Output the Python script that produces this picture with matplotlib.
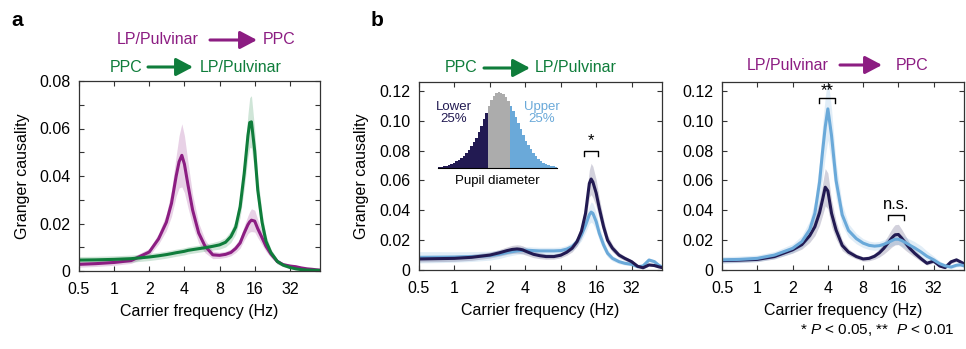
import matplotlib
matplotlib.use("Agg")
import matplotlib.pyplot as plt
from matplotlib.patches import FancyArrowPatch
from matplotlib.ticker import FixedLocator, FuncFormatter, NullLocator
import numpy as np

plt.rcParams['font.family'] = ['Liberation Sans', 'DejaVu Sans']
plt.rcParams['mathtext.fontset'] = 'custom'
plt.rcParams['mathtext.rm'] = 'Liberation Sans'
plt.rcParams['mathtext.it'] = 'Liberation Sans:italic'

# carrier frequencies (Hz) shared by all spectra
freq = [0.5, 0.7, 1.0, 1.4, 2.0, 2.4, 2.8, 3.1, 3.4, 3.6, 3.8, 4.0, 4.3, 4.7,
        5.3, 6.0, 7.0, 8.0, 9.0, 10.0, 11.0, 12.0, 13.0, 14.0, 14.5, 15.0,
        16.0, 17.0, 18.5, 20.0, 22.0, 25.0, 28.0, 32.0, 36.0, 40.0, 45.0,
        50.0, 54.0, 58.0]

# panel a: all trials
lp_to_ppc = [0.0028, 0.0031, 0.0036, 0.0044, 0.0080, 0.0135, 0.0205, 0.0285,
             0.0400, 0.0460, 0.0487, 0.0450, 0.0360, 0.0257, 0.0160, 0.0105,
             0.0068, 0.0066, 0.0070, 0.0078, 0.0095, 0.0118, 0.0160, 0.0195,
             0.0207, 0.0214, 0.0210, 0.0178, 0.0140, 0.0104, 0.0072, 0.0040,
             0.0027, 0.0021, 0.0018, 0.0013, 0.0009, 0.0007, 0.0005, 0.0004]
lp_to_ppc_sem = [0.0012, 0.0012, 0.0012, 0.0012, 0.0015, 0.0022, 0.0035, 0.0055,
                 0.0085, 0.0110, 0.0133, 0.0120, 0.0095, 0.0065, 0.0042, 0.0028,
                 0.0016, 0.0013, 0.0013, 0.0014, 0.0017, 0.0022, 0.0030, 0.0038,
                 0.0043, 0.0048, 0.0046, 0.0038, 0.0030, 0.0022, 0.0015, 0.0010,
                 0.0008, 0.0007, 0.0006, 0.0005, 0.0004, 0.0003, 0.0003, 0.0003]
ppc_to_lp = [0.0046, 0.0047, 0.0049, 0.0052, 0.0059, 0.0064, 0.0069, 0.0073,
             0.0077, 0.0079, 0.0081, 0.0083, 0.0087, 0.0090, 0.0094, 0.0098,
             0.0104, 0.0110, 0.0121, 0.0145, 0.0185, 0.0270, 0.0410, 0.0570,
             0.0625, 0.0628, 0.0505, 0.0340, 0.0205, 0.0125, 0.0078, 0.0040,
             0.0025, 0.0015, 0.0009, 0.0006, 0.0004, 0.0003, 0.0003, 0.0002]
ppc_to_lp_sem = [0.0015, 0.0015, 0.0015, 0.0015, 0.0015, 0.0015, 0.0015, 0.0015,
                 0.0015, 0.0015, 0.0015, 0.0015, 0.0015, 0.0015, 0.0015, 0.0015,
                 0.0016, 0.0018, 0.0020, 0.0025, 0.0030, 0.0045, 0.0065, 0.0090,
                 0.0105, 0.0110, 0.0090, 0.0060, 0.0040, 0.0025, 0.0015, 0.0010,
                 0.0007, 0.0005, 0.0004, 0.0003, 0.0003, 0.0002, 0.0002, 0.0002]

# panel b left: PPC -> LP/Pulvinar split by pupil size
ppc_lp_lower = [0.0074, 0.0076, 0.0078, 0.0085, 0.0100, 0.0115, 0.0130, 0.0138,
                0.0141, 0.0139, 0.0135, 0.0127, 0.0117, 0.0105, 0.0096, 0.0090,
                0.0090, 0.0099, 0.0119, 0.0146, 0.0190, 0.0260, 0.0380, 0.0580,
                0.0610, 0.0590, 0.0516, 0.0415, 0.0290, 0.0200, 0.0146, 0.0100,
                0.0078, 0.0056, 0.0025, 0.0015, 0.0034, 0.0030, 0.0022, 0.0016]
ppc_lp_lower_sem = [0.0020, 0.0020, 0.0020, 0.0020, 0.0020, 0.0022, 0.0025, 0.0027,
                    0.0028, 0.0028, 0.0027, 0.0026, 0.0024, 0.0022, 0.0020, 0.0018,
                    0.0017, 0.0018, 0.0020, 0.0025, 0.0030, 0.0045, 0.0065, 0.0090,
                    0.0105, 0.0105, 0.0090, 0.0070, 0.0050, 0.0035, 0.0025, 0.0018,
                    0.0015, 0.0012, 0.0010, 0.0008, 0.0008, 0.0008, 0.0007, 0.0007]
ppc_lp_upper = [0.0085, 0.0086, 0.0087, 0.0090, 0.0096, 0.0105, 0.0117, 0.0123,
                0.0128, 0.0130, 0.0131, 0.0132, 0.0132, 0.0130, 0.0128, 0.0128,
                0.0128, 0.0130, 0.0140, 0.0157, 0.0190, 0.0235, 0.0300, 0.0370,
                0.0388, 0.0380, 0.0325, 0.0247, 0.0168, 0.0112, 0.0078, 0.0056,
                0.0045, 0.0038, 0.0022, 0.0027, 0.0067, 0.0056, 0.0034, 0.0020]
ppc_lp_upper_sem = [0.0038, 0.0037, 0.0035, 0.0033, 0.0030, 0.0028, 0.0026, 0.0025,
                    0.0024, 0.0024, 0.0024, 0.0024, 0.0024, 0.0024, 0.0024, 0.0024,
                    0.0024, 0.0024, 0.0025, 0.0027, 0.0030, 0.0038, 0.0048, 0.0060,
                    0.0068, 0.0068, 0.0060, 0.0048, 0.0035, 0.0025, 0.0018, 0.0014,
                    0.0012, 0.0010, 0.0009, 0.0009, 0.0012, 0.0012, 0.0010, 0.0008]

# panel b right: LP/Pulvinar -> PPC split by pupil size
lp_ppc_lower = [0.0063, 0.0066, 0.0071, 0.0090, 0.0135, 0.0170, 0.0230, 0.0290,
                0.0385, 0.0470, 0.0555, 0.0530, 0.0380, 0.0268, 0.0165, 0.0120,
                0.0090, 0.0074, 0.0078, 0.0092, 0.0115, 0.0145, 0.0180, 0.0213,
                0.0226, 0.0236, 0.0238, 0.0215, 0.0178, 0.0145, 0.0112, 0.0075,
                0.0045, 0.0060, 0.0027, 0.0016, 0.0055, 0.0068, 0.0055, 0.0042]
lp_ppc_lower_sem = [0.0015, 0.0015, 0.0015, 0.0016, 0.0022, 0.0030, 0.0045, 0.0060,
                    0.0085, 0.0105, 0.0125, 0.0120, 0.0090, 0.0060, 0.0035, 0.0022,
                    0.0016, 0.0015, 0.0016, 0.0020, 0.0028, 0.0038, 0.0050, 0.0060,
                    0.0065, 0.0068, 0.0068, 0.0060, 0.0048, 0.0035, 0.0025, 0.0018,
                    0.0012, 0.0012, 0.0008, 0.0006, 0.0012, 0.0012, 0.0010, 0.0008]
lp_ppc_upper = [0.0068, 0.0071, 0.0078, 0.0100, 0.0145, 0.0190, 0.0270, 0.0380,
                0.0590, 0.0790, 0.0960, 0.1080, 0.0900, 0.0600, 0.0370, 0.0265,
                0.0210, 0.0180, 0.0165, 0.0160, 0.0163, 0.0172, 0.0184, 0.0196,
                0.0202, 0.0206, 0.0206, 0.0198, 0.0182, 0.0166, 0.0148, 0.0120,
                0.0092, 0.0068, 0.0042, 0.0028, 0.0020, 0.0032, 0.0035, 0.0028]
lp_ppc_upper_sem = [0.0022, 0.0022, 0.0022, 0.0024, 0.0030, 0.0040, 0.0060, 0.0090,
                    0.0140, 0.0180, 0.0200, 0.0210, 0.0180, 0.0120, 0.0070, 0.0045,
                    0.0035, 0.0030, 0.0028, 0.0028, 0.0028, 0.0030, 0.0032, 0.0034,
                    0.0035, 0.0035, 0.0035, 0.0036, 0.0038, 0.0040, 0.0042, 0.0042,
                    0.0035, 0.0025, 0.0018, 0.0014, 0.0012, 0.0012, 0.0012, 0.0010]

# pupil diameter histogram (relative counts) and quartile split
pupil_counts = [1, 1.5, 2, 3, 4, 5, 7, 9, 11, 13, 16, 20, 24, 29, 34, 40, 47,
                55, 64, 73, 82, 90, 95, 99, 100, 99, 97, 93, 88, 82, 75, 67,
                59, 51, 43, 36, 30, 25, 20, 16, 12, 9, 7, 5, 4, 3, 2, 1]
n_lower_bins = 20
n_upper_bins = 19

xticks = [0.5, 1, 2, 4, 8, 16, 32]
xticklabels = ['0.5', '1', '2', '4', '8', '16', '32']

PURPLE = '#8c1d82'
GREEN = '#0f7d3b'
NAVY = '#221a52'
LBLUE = '#6aa9d9'
GRAY = '#acacac'
SPINE = '#333333'

W, H = 966, 349
fig = plt.figure(figsize=(W / 100, H / 100), dpi=100)


def fx(x):
    return x / W


def fy(y):
    return 1 - y / H


def make_axes(left, top, right, bottom):
    return fig.add_axes([fx(left), fy(bottom), fx(right - left), (bottom - top) / H])


def ylab_fmt(v, pos):
    if abs(v) < 1e-9:
        return '0'
    if round(v * 100) % 2 == 0:
        return '%.2f' % v
    return ''


def style(ax, ymax, ystep):
    ax.set_xscale('log', base=2)
    ax.set_xlim(0.5, 58)
    ax.set_ylim(0, ymax)
    ax.xaxis.set_major_locator(FixedLocator(xticks))
    ax.set_xticklabels(xticklabels)
    ax.xaxis.set_minor_locator(NullLocator())
    ax.yaxis.set_major_locator(FixedLocator(np.arange(0, ymax + 1e-9, ystep)))
    ax.yaxis.set_major_formatter(FuncFormatter(ylab_fmt))
    ax.tick_params(direction='in', length=3.5, width=0.8, color=SPINE,
                   top=True, right=True, labelsize=11.5)
    ax.tick_params(axis='x', pad=8)
    ax.tick_params(axis='y', pad=6)
    for s in ax.spines.values():
        s.set_color(SPINE)
        s.set_linewidth(0.9)
    ax.set_xlabel('Carrier frequency (Hz)', fontsize=11.5, labelpad=5)


def spectrum(ax, mean, sem, color):
    m = np.array(mean)
    e = np.array(sem)
    ax.fill_between(freq, m - e, m + e, color=color, alpha=0.2, lw=0)
    ax.plot(freq, m, color=color, lw=2.2, solid_capstyle='round')


def bracket(ax, x0, x1, ytop, yleg, label, ylab):
    ax.plot([x0, x0, x1, x1], [yleg, ytop, ytop, yleg], color='black', lw=1)
    ax.text(np.sqrt(x0 * x1), ylab, label, ha='center', va='center', fontsize=12)


def direction(x_src, x_arrow0, x_arrow1, x_dst, y, src, dst, color):
    fig.text(fx(x_src), fy(y), src, color=color, ha='left', va='center', fontsize=11.5)
    fig.text(fx(x_dst), fy(y), dst, color=color, ha='left', va='center', fontsize=11.5)
    fig.add_artist(FancyArrowPatch(
        (fx(x_arrow0), fy(y)), (fx(x_arrow1), fy(y)), transform=fig.transFigure,
        arrowstyle='-|>,head_length=0.85,head_width=0.45', mutation_scale=12,
        color=color, lw=2.2, shrinkA=0, shrinkB=0))


# panel a
ax_a = make_axes(79, 81, 320, 271)
spectrum(ax_a, lp_to_ppc, lp_to_ppc_sem, PURPLE)
spectrum(ax_a, ppc_to_lp, ppc_to_lp_sem, GREEN)
style(ax_a, 0.08, 0.01)
ax_a.set_ylabel('Granger causality', fontsize=11.5)
ax_a.yaxis.set_label_coords(-0.205, 0.5)

# panel b left
ax_b1 = make_axes(419, 82, 662, 270)
spectrum(ax_b1, ppc_lp_upper, ppc_lp_upper_sem, LBLUE)
spectrum(ax_b1, ppc_lp_lower, ppc_lp_lower_sem, NAVY)
style(ax_b1, 0.126, 0.02)
ax_b1.set_ylabel('Granger causality', fontsize=11.5)
ax_b1.yaxis.set_label_coords(-0.204, 0.5)
bracket(ax_b1, 12.5, 16.5, 0.080, 0.0763, '*', 0.0865)

# panel b right
ax_b2 = make_axes(722, 82, 964, 270)
spectrum(ax_b2, lp_ppc_lower, lp_ppc_lower_sem, NAVY)
spectrum(ax_b2, lp_ppc_upper, lp_ppc_upper_sem, LBLUE)
style(ax_b2, 0.126, 0.02)
bracket(ax_b2, 3.36, 4.57, 0.1154, 0.112, '**', 0.1205)
bracket(ax_b2, 13.1, 17.8, 0.0366, 0.0332, 'n.s.', 0.0437)

# pupil diameter inset
ax_in = make_axes(438, 92, 557, 168)
bins = np.arange(len(pupil_counts))
colors = ([NAVY] * n_lower_bins
          + [GRAY] * (len(pupil_counts) - n_lower_bins - n_upper_bins)
          + [LBLUE] * n_upper_bins)
ax_in.bar(bins, pupil_counts, width=1.0, color=colors, lw=0, align='edge')
ax_in.set_xlim(0, len(pupil_counts))
ax_in.set_ylim(0, 100)
ax_in.set_xticks([])
ax_in.set_yticks([])
for side in ['top', 'left', 'right']:
    ax_in.spines[side].set_visible(False)
ax_in.spines['bottom'].set_linewidth(0.8)
ax_in.patch.set_alpha(0)
fig.text(fx(454), fy(113), 'Lower\n25%', color=NAVY, ha='center', va='center',
         fontsize=9.5, linespacing=1.1)
fig.text(fx(542), fy(113), 'Upper\n25%', color=LBLUE, ha='center', va='center',
         fontsize=9.5, linespacing=1.1)
fig.text(fx(497), fy(181), 'Pupil diameter', ha='center', va='center', fontsize=9.5)

# direction headers
direction(117, 210, 257, 263, 40, 'LP/Pulvinar', 'PPC', PURPLE)
direction(110, 148, 193, 200, 67, 'PPC', 'LP/Pulvinar', GREEN)
direction(445, 484, 530, 535, 68, 'PPC', 'LP/Pulvinar', GREEN)
direction(747, 840, 882, 896, 65, 'LP/Pulvinar', 'PPC', PURPLE)

fig.text(fx(11), fy(20), 'a', fontsize=15, fontweight='bold', va='center')
fig.text(fx(371), fy(20), 'b', fontsize=15, fontweight='bold', va='center')
fig.text(fx(800), fy(330), r'* $P$ < 0.05, **  $P$ < 0.01', ha='left', va='center',
         fontsize=11)

fig.savefig('out.png', dpi=100)
